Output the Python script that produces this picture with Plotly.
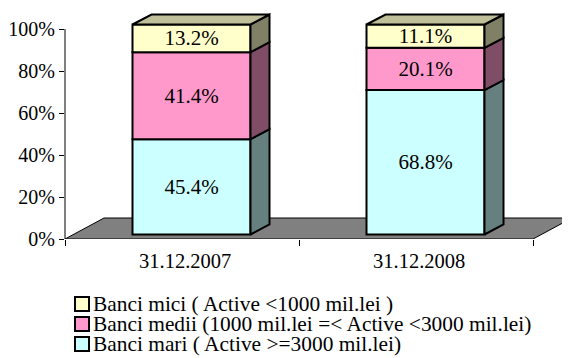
import plotly.graph_objects as go

# ---------------- data ----------------
categories = ["31.12.2007", "31.12.2008"]
series_names = [
    "Banci mari ( Active >=3000 mil.lei)",
    "Banci medii (1000 mil.lei =< Active <3000 mil.lei)",
    "Banci mici ( Active <1000 mil.lei )",
]
banci_mari = [45.4, 68.8]
banci_medii = [41.4, 20.1]
banci_mici = [13.2, 11.1]
y_ticks = [0, 20, 40, 60, 80, 100]

# ---------------- style ----------------
front_colors = ["#CCFFFF", "#FF99CC", "#FFFFCC"]
side_colors = ["#668080", "#804D66", "#808066"]
top_color = "#BFBF99"
floor_color = "#808080"
FONT = "Liberation Serif"
FS_TICK = 20
FS_CAT = 20.5
FS_LABEL = 21
FS_LEG = 21.4

# the page places the figure 8px from the window's top-left corner
OFF = 8
W_FIG, H_FIG = 570 - OFF, 358 - OFF

def px_x(p):           # window pixel -> paper x
    return (p - OFF) / W_FIG

def px_y(p):           # window pixel -> paper y
    return 1 - (p - OFF) / H_FIG

X0_PX = 65          # window pixel of x = -0.5 (front plane)
CAT_PX = 234.0      # pixels per category
Y0_PX = 239         # window pixel of 0 %
PX_PER_PCT = 2.1    # pixels per percent
TOP_PX = OFF

def dx(px):
    return px / CAT_PX

def dy(px):
    return px / PX_PER_PCT

SHIFT_X, SHIFT_Y = dx(9.5), dy(4.5)      # bars sit half way into the floor depth
DEPTH_X, DEPTH_Y = dx(19), dy(10)        # bar depth
FLOOR_X, FLOOR_Y = dx(39), dy(21)        # floor depth
BAR_W = 118 / CAT_PX

x_range = [-0.5, -0.5 + (570 - X0_PX) / CAT_PX]
y_range = [0, (Y0_PX - TOP_PX) / PX_PER_PCT]

fig = go.Figure()
n = len(categories)

series = [banci_mari, banci_medii, banci_mici]
xs = [i + SHIFT_X for i in range(n)]
bases = [[SHIFT_Y] * n]
for s in series[:-1]:
    bases.append([b + v for b, v in zip(bases[-1], s)])

# front faces
for s, b, name, col in zip(series, bases, series_names, front_colors):
    fig.add_trace(go.Bar(
        x=xs, y=s, base=b, width=BAR_W, name=name,
        marker=dict(color=col, line=dict(color="black", width=2)),
        text=[f"{v:.1f}%" for v in s], textposition="inside", insidetextanchor="middle",
        constraintext="none", textangle=0,
        textfont=dict(family=FONT, size=FS_LABEL, color="black"),
        hoverinfo="skip", showlegend=False))

# side faces
for s, b, col in zip(series, bases, side_colors):
    px_, py_ = [], []
    for x, v, b0 in zip(xs, s, b):
        xr = x + BAR_W / 2
        px_ += [xr, xr + DEPTH_X, xr + DEPTH_X, xr, xr, None]
        py_ += [b0, b0 + DEPTH_Y, b0 + v + DEPTH_Y, b0 + v, b0, None]
    fig.add_trace(go.Scatter(x=px_, y=py_, mode="lines", fill="toself", fillcolor=col,
                             line=dict(color="black", width=2), hoverinfo="skip", showlegend=False))

# top faces
tx, ty = [], []
for x, b0, v in zip(xs, bases[-1], series[-1]):
    top = b0 + v
    xl, xr = x - BAR_W / 2, x + BAR_W / 2
    tx += [xl, xl + DEPTH_X, xr + DEPTH_X, xr, xl, None]
    ty += [top, top + DEPTH_Y, top + DEPTH_Y, top, top, None]
fig.add_trace(go.Scatter(x=tx, y=ty, mode="lines", fill="toself", fillcolor=top_color,
                         line=dict(color="black", width=2), hoverinfo="skip", showlegend=False))

# category labels
for i, c in enumerate(categories):
    fig.add_annotation(x=i + dx(3), y=px_y(261), xref="x", yref="paper", text=c,
                       showarrow=False, font=dict(family=FONT, size=FS_CAT, color="black"),
                       xanchor="center", yanchor="middle")

shapes = []
# floor (drawn below the bars)
floor_pts = [(-0.5, 0), (n - 0.5, 0), (n - 0.5 + FLOOR_X, FLOOR_Y), (-0.5 + FLOOR_X, FLOOR_Y)]
shapes.append(dict(type="path", xref="x", yref="y", layer="below",
                   path="M " + " L ".join(f"{x},{y}" for x, y in floor_pts) + " Z",
                   fillcolor=floor_color, line=dict(color="black", width=1)))
# y axis line
shapes.append(dict(type="line", xref="paper", yref="y", x0=px_x(X0_PX), x1=px_x(X0_PX),
                   y0=y_ticks[0], y1=y_ticks[-1], line=dict(color="black", width=1)))

# legend (top to bottom: mici, medii, mari)
leg_rows = [304, 324, 344]
for row, idx in zip(leg_rows, [2, 1, 0]):
    shapes.append(dict(type="rect", xref="paper", yref="paper",
                       x0=px_x(75), x1=px_x(89), y0=px_y(row + 7), y1=px_y(row - 7),
                       fillcolor=front_colors[idx], line=dict(color="black", width=2)))
    fig.add_annotation(x=px_x(91), y=px_y(row), xref="paper", yref="paper",
                       text=series_names[idx].replace("<", "&lt;").replace(">", "&gt;"),
                       showarrow=False, xanchor="left", yanchor="middle",
                       font=dict(family=FONT, size=FS_LEG, color="black"))

fig.update_layout(
    width=W_FIG, height=H_FIG, margin=dict(l=0, r=0, t=0, b=0, autoexpand=False),
    paper_bgcolor="white", plot_bgcolor="white",
    barmode="overlay", showlegend=False, shapes=shapes,
    font=dict(family=FONT, size=FS_TICK, color="black"),
    xaxis=dict(domain=[px_x(X0_PX), 1], range=x_range, showgrid=False, zeroline=False,
               showline=False, tickvals=[-0.5 + i for i in range(n + 1)], ticks="outside",
               ticklen=6, tickcolor="black", showticklabels=False, automargin=False,
               fixedrange=True),
    yaxis=dict(domain=[px_y(Y0_PX), px_y(TOP_PX)], range=y_range,
               showgrid=False, zeroline=False, showline=False, tickvals=y_ticks,
               ticktext=[f"{t}%" for t in y_ticks], ticks="outside", ticklen=5,
               tickcolor="black", tickfont=dict(family=FONT, size=FS_TICK, color="black"),
               automargin=False, fixedrange=True),
)

fig.write_html("out.html")
